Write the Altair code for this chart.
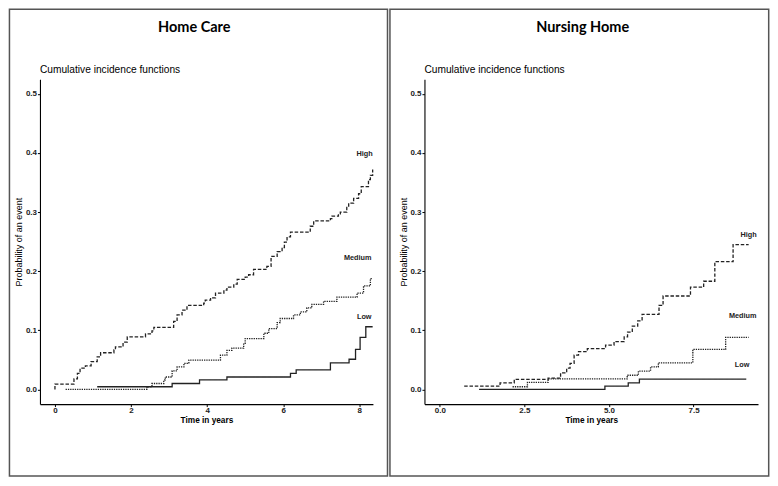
import altair as alt
import pandas as pd

# ---------------- data ----------------
# Home Care
hc_high_t = [0, 0, 0.50, 0.59, 0.66, 0.80, 0.95, 1.11, 1.20, 1.55, 1.59, 1.79, 1.90, 2.38, 2.55, 2.60,
             3.12, 3.21, 3.34, 3.47, 3.91, 3.95, 4.09, 4.22, 4.44, 4.52, 4.70, 4.79, 5.00, 5.09, 5.22,
             5.57, 5.68, 5.84, 5.97, 6.03, 6.10, 6.19, 6.71, 6.80, 7.24, 7.28, 7.45, 7.50, 7.67, 7.72,
             7.85, 7.98, 8.05, 8.24, 8.29, 8.35]
hc_high_p = [0, 0.009, 0.018, 0.027, 0.036, 0.040, 0.047, 0.055, 0.062, 0.067, 0.072, 0.080, 0.089, 0.094,
             0.099, 0.105, 0.115, 0.126, 0.134, 0.142, 0.146, 0.151, 0.155, 0.163, 0.168, 0.173, 0.178,
             0.186, 0.190, 0.194, 0.203, 0.208, 0.225, 0.233, 0.240, 0.249, 0.258, 0.266, 0.276, 0.285,
             0.289, 0.293, 0.297, 0.300, 0.308, 0.315, 0.323, 0.331, 0.343, 0.355, 0.362, 0.372]
hc_med_t = [0.28, 2.42, 2.55, 2.86, 2.90, 3.08, 3.21, 3.39, 3.52, 4.35, 4.52, 4.65, 4.96, 5.00, 5.49,
            5.62, 5.84, 5.92, 6.27, 6.45, 6.62, 6.75, 7.06, 7.41, 7.94, 8.11, 8.29, 8.35]
hc_med_p = [0, 0.0045, 0.010, 0.016, 0.021, 0.0315, 0.038, 0.044, 0.0495, 0.058, 0.066, 0.070, 0.078,
            0.086, 0.095, 0.103, 0.113, 0.120, 0.126, 0.131, 0.138, 0.144, 0.149, 0.156, 0.163, 0.175,
            0.1875, 0.1875]
hc_low_t = [1.11, 3.08, 3.80, 4.52, 6.19, 6.34, 7.24, 7.73, 7.90, 8.02, 8.17, 8.35]
hc_low_p = [0.0045, 0.010, 0.016, 0.021, 0.027, 0.033, 0.045, 0.051, 0.0676, 0.088, 0.106, 0.106]

# Nursing Home
nh_high_t = [0.72, 1.78, 2.20, 3.20, 3.57, 3.75, 3.85, 3.97, 4.10, 4.36, 4.90, 5.15, 5.45, 5.55, 5.69,
             5.85, 5.98, 6.48, 6.60, 7.41, 7.80, 8.13, 8.67, 9.13]
nh_high_p = [0.0055, 0.011, 0.017, 0.019, 0.028, 0.036, 0.044, 0.058, 0.064, 0.069, 0.075, 0.081, 0.089,
             0.097, 0.107, 0.116, 0.127, 0.142, 0.158, 0.173, 0.183, 0.216, 0.245, 0.245]
nh_med_t = [2.15, 2.59, 3.20, 5.54, 5.87, 6.23, 6.46, 7.48, 8.45, 9.13]
nh_med_p = [0.0045, 0.012, 0.018, 0.024, 0.031, 0.038, 0.045, 0.0676, 0.088, 0.088]
nh_low_t = [1.16, 4.88, 5.57, 5.90, 9.06]
nh_low_p = [0, 0.0056, 0.011, 0.0175, 0.0175]

groups = ["High", "Medium", "Low"]
y_ticks = [0.0, 0.1, 0.2, 0.3, 0.4, 0.5]
hc_x_ticks = [0, 2, 4, 6, 8]
nh_x_ticks = [0.0, 2.5, 5.0, 7.5]

# curve-end labels (data coordinates)
hc_lab_t = [8.35, 8.32, 8.32]
hc_lab_p = [0.398, 0.222, 0.1226]
nh_lab_t = [9.37, 9.36, 9.15]
nh_lab_p = [0.2606, 0.1238, 0.0405]

FONT = "Liberation Sans"
INK = "#222222"


def make_df(series):
    rows = []
    for g, (ts, ps) in zip(groups, series):
        for i, (t, p) in enumerate(zip(ts, ps)):
            rows.append({"group": g, "t": t, "p": p, "order": i})
    return pd.DataFrame(rows)


def panel(series, lab_t, lab_p, xdom, xticks, xfmt, width, heading, heading_x, frame_x):
    height = 325.3
    df = make_df(series)
    xs = alt.Scale(domain=xdom, nice=False, zero=False)
    ys = alt.Scale(domain=[-0.0248, 0.5247], nice=False, zero=False)
    xax = alt.Axis(values=xticks, format=xfmt, title="Time in years", titleFontWeight="bold",
                   titleFontSize=8.3, titlePadding=1, labelPadding=0)
    yax = alt.Axis(values=y_ticks, format=".1f", title="Probability of an event",
                   titleFontWeight="normal", titleFontSize=9, titlePadding=1.5, labelPadding=1)

    lines = alt.Chart(df).mark_line(interpolate="step-after", strokeWidth=1.3, color=INK).encode(
        x=alt.X("t:Q", scale=xs, axis=xax),
        y=alt.Y("p:Q", scale=ys, axis=yax),
        strokeDash=alt.StrokeDash("group:N", scale=alt.Scale(domain=groups,
                                  range=[[3.5, 1.8], [1.3, 1.0], [1, 0]]), legend=None),
        detail="group:N",
        order="order:Q",
    )
    labs = alt.Chart(pd.DataFrame({"t": lab_t, "p": lab_p, "txt": groups})).mark_text(
        align="right", baseline="middle", font=FONT, fontSize=7.3, fontWeight="bold", color=INK
    ).encode(x=alt.X("t:Q", scale=xs), y=alt.Y("p:Q", scale=ys), text="txt:N")

    one = pd.DataFrame({"txt": [heading]})
    head = alt.Chart(one).mark_text(font="Lato", fontSize=14.5, fontWeight="bold", color="black",
                                    align="center", baseline="middle").encode(
        x=alt.value(heading_x), y=alt.value(-51), text="txt:N")
    sub = alt.Chart(pd.DataFrame({"txt": ["Cumulative incidence functions"]})).mark_text(
        font=FONT, fontSize=10.2, color="black", align="left", baseline="middle").encode(
        x=alt.value(0), y=alt.value(-9), text="txt:N")
    frame = alt.Chart(pd.DataFrame({"k": [1]})).mark_rect(
        fillOpacity=0, stroke="#555555", strokeWidth=1.5).encode(
        x=alt.value(frame_x[0]), x2=alt.value(frame_x[1]),
        y=alt.value(-69.95), y2=alt.value(397.3))
    return alt.layer(frame, lines, labs, head, sub).properties(width=width, height=height)


left = panel([(hc_high_t, hc_high_p), (hc_med_t, hc_med_p), (hc_low_t, hc_low_p)],
             hc_lab_t, hc_lab_p, [-0.394, 8.357], hc_x_ticks, "d", 333.4,
             "Home Care", 154.5, (-30.55, 348.0))
right = panel([(nh_high_t, nh_high_p), (nh_med_t, nh_med_p), (nh_low_t, nh_low_p)],
              nh_lab_t, nh_lab_p, [-0.455, 9.407], nh_x_ticks, ".1f", 334.0,
              "Nursing Home", 158.4, (-34.55, 344.7))

chart = alt.hconcat(left, right, spacing=0).properties(padding=0, background="white").configure_view(
    stroke=None
).configure_axis(
    grid=False, domainColor="black", domainWidth=1.1, tickColor="black", tickSize=2.5,
    labelFont=FONT, labelFontSize=8, labelFontWeight="bold", labelColor=INK,
    titleFont=FONT, titleColor="black",
)

chart.save("out.html", embed_options={"renderer": "svg", "actions": False})
